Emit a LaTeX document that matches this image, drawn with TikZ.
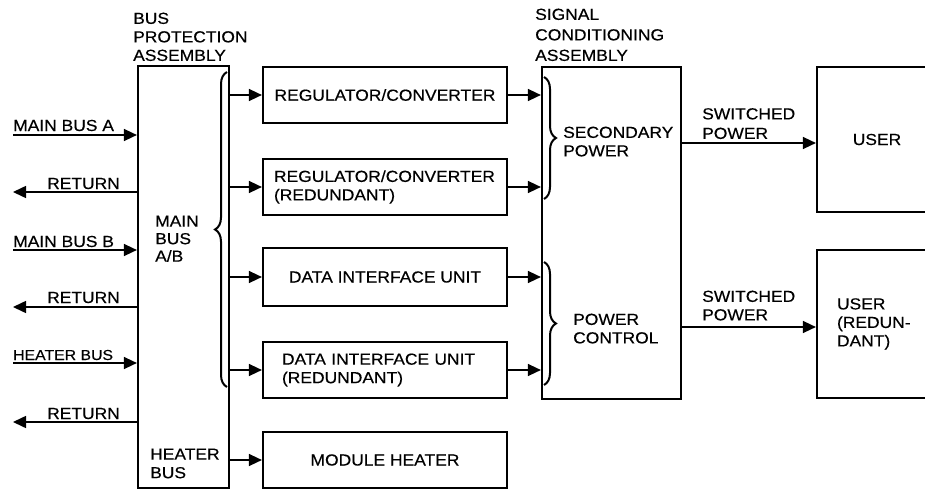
\documentclass[tikz,border=0pt]{standalone}
\usepackage{fontspec}
\setmainfont{Liberation Sans}[FakeStretch=1.09,FakeBold=0.4]
\usetikzlibrary{arrows.meta,decorations.pathreplacing}
\begin{document}
\begin{tikzpicture}[x=1pt,y=-1pt,
 every node/.style={font=\fontsize{16}{18.5}\selectfont},
 blk/.style={draw, line width=2.2pt, inner sep=0pt, minimum width=244pt, minimum height=56pt},
 arr/.style={line width=1.5pt, -{Triangle[length=13pt,width=12pt]}},
 lbl/.style={anchor=base west, inner sep=0pt},
 mlbl/.style={anchor=north west, inner sep=0pt, align=left},
 brc/.style={line width=2pt, decorate, decoration={brace, amplitude=12pt}}
]
\useasboundingbox (0,0) rectangle (925,492);
\clip (0,0) rectangle (925,492);

% main blocks
\node[blk, minimum width=91pt, minimum height=422pt] (bpa) at (183.5,277) {};
\node[blk, minimum width=139pt, minimum height=332pt] (sca) at (611.5,233) {};
\node[blk] (reg) at (385,95) {REGULATOR/CONVERTER};
\node[blk, align=left, text width=222pt, inner xsep=11pt] (regr) at (385,187) {REGULATOR/CONVERTER\\(REDUNDANT)};
\node[blk, minimum height=58pt] (diu) at (385,277) {DATA INTERFACE UNIT};
\node[blk, align=left, text width=206pt, inner xsep=19pt] (diur) at (385,370) {DATA INTERFACE UNIT\\(REDUNDANT)};
\node[blk] (mod) at (385,460) {MODULE HEATER};
\node[blk, minimum width=120pt, minimum height=145pt] (user) at (877,139.5) {USER};
\node[blk, minimum width=120pt, minimum height=148pt, align=left, text width=80pt, inner xsep=20pt] (userr) at (877,324) {USER\\(REDUN-\\DANT)};

% headers and inner labels
\node[mlbl] (hbpa) at (133,12.5) {BUS\\PROTECTION\\ASSEMBLY};
\node[mlbl, font=\fontsize{16}{20.5}\selectfont] (hsca) at (535,8.5) {SIGNAL\\CONDITIONING\\ASSEMBLY};
\node[mlbl, font=\fontsize{16}{17.5}\selectfont] (lmain) at (155,215.5) {MAIN\\BUS\\A/B};
\node[mlbl] (lheat) at (150,448.5) {HEATER\\BUS};
\node[mlbl] (lsec) at (563,126.5) {SECONDARY\\POWER};
\node[mlbl] (lpc) at (573,313.5) {POWER\\CONTROL};
\node[mlbl, font=\fontsize{16}{19.5}\selectfont] (lsw1) at (702,108) {SWITCHED\\POWER};
\node[mlbl] (lsw2) at (702,290.5) {SWITCHED\\POWER};

% braces
\draw[brc] (227,387) -- (227,72);
\draw[brc] (544,77) -- (544,199);
\draw[brc] (544,262) -- (544,385);

% bus protection -> boxes
\draw[arr] (bpa.east |- reg.west) -- (reg.west);
\draw[arr] (bpa.east |- regr.west) -- (regr.west);
\draw[arr] (bpa.east |- diu.west) -- (diu.west);
\draw[arr] (bpa.east |- diur.west) -- (diur.west);
\draw[arr] (bpa.east |- mod.west) -- (mod.west);

% boxes -> signal conditioning
\draw[arr] (reg.east) -- (reg.east -| sca.west);
\draw[arr] (regr.east) -- (regr.east -| sca.west);
\draw[arr] (diu.east) -- (diu.east -| sca.west);
\draw[arr] (diur.east) -- (diur.east -| sca.west);

% switched power
\coordinate (u1) at ([yshift=-3.5pt]user.west);
\coordinate (u2) at ([yshift=-3pt]userr.west);
\draw[arr] (sca.east |- u1) -- (u1);
\draw[arr] (sca.east |- u2) -- (u2);

% left side inputs and returns
\coordinate (ina) at (13,135);
\coordinate (r1) at (13,192);
\coordinate (inb) at (13,250);
\coordinate (r2) at (13,307);
\coordinate (inh) at (13,363);
\coordinate (r3) at (13,422);
\draw[arr] (ina) -- (ina -| bpa.west);
\draw[arr] (r1 -| bpa.west) -- (r1);
\draw[arr] (inb) -- (inb -| bpa.west);
\draw[arr] (r2 -| bpa.west) -- (r2);
\draw[arr] (inh) -- (inh -| bpa.west);
\draw[arr] (r3 -| bpa.west) -- (r3);
\node[lbl] (lina) at (13,131) {MAIN BUS A};
\node[lbl] (lr1) at (47,189) {RETURN};
\node[lbl] (linb) at (13,247) {MAIN BUS B};
\node[lbl] (lr2) at (47,303) {RETURN};
\node[lbl, font=\fontsize{14.5}{18}\selectfont] (linh) at (13,360) {HEATER BUS};
\node[lbl] (lr3) at (47,419) {RETURN};
\end{tikzpicture}
\end{document}
